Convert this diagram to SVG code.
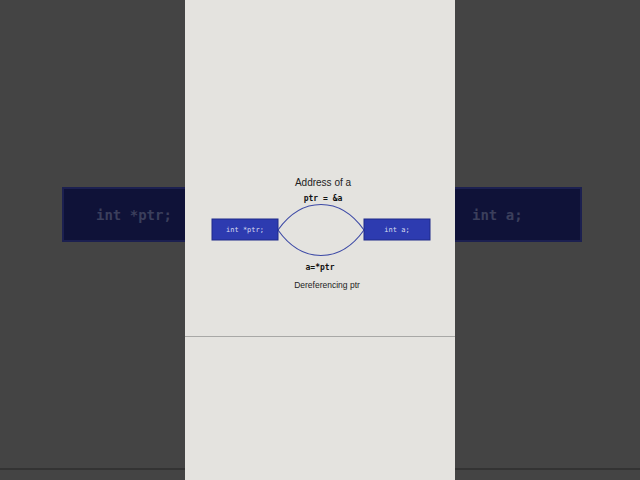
<svg xmlns="http://www.w3.org/2000/svg" width="640" height="480" viewBox="0 0 640 480">
<defs>
<style>
.bgbox{fill:#0f1238;stroke:#1c2050;stroke-width:2}
.bgtxt{font-family:"DejaVu Sans Mono","Liberation Mono",monospace;font-size:14px;font-weight:bold;fill:#3b3f5c}
.node rect{fill:#2d3bb0;stroke:#1f2a8a;stroke-width:1}
.node text{font-family:"DejaVu Sans Mono","Liberation Mono",monospace;font-size:7px;fill:#d8dbf0;text-anchor:middle}
.edge{fill:none;stroke:#3d4aa6;stroke-width:1.1}
.lbl{font-family:"DejaVu Sans Mono","Liberation Mono",monospace;font-size:8px;font-weight:bold;fill:#111;text-anchor:middle}
.cap{font-family:"Liberation Sans","DejaVu Sans",sans-serif;fill:#222;text-anchor:middle}
</style>
</defs>
<rect x="0" y="0" width="640" height="480" fill="#444444"/>
<line x1="0" y1="469" x2="640" y2="469" stroke="#333333" stroke-width="2"/>
<rect class="bgbox" x="63" y="188" width="140" height="53"/>
<rect class="bgbox" x="437" y="188" width="144" height="53"/>
<text class="bgtxt" x="96" y="220">int *ptr;</text>
<text class="bgtxt" x="472" y="220">int a;</text>
<rect x="185" y="0" width="270" height="480" fill="#e4e3df"/>
<line x1="185" y1="336.5" x2="455" y2="336.5" stroke="#a8a8a6" stroke-width="1"/>
<g id="connectors">
<path class="edge" d="M278,230 C302,196 340,196 364,230"/>
<path class="edge" d="M278,230 C302,264 340,264 364,230"/>
</g>
<g id="node-ptr" class="node">
<rect x="212" y="219" width="66" height="21"/>
<text x="245" y="232">int *ptr;</text>
</g>
<g id="node-a" class="node">
<rect x="364" y="219" width="66" height="21"/>
<text x="397" y="232">int a;</text>
</g>
<g id="labels">
<text class="cap" x="323" y="186" font-size="10">Address of a</text>
<text class="lbl" x="323" y="201">ptr = &amp;a</text>
<text class="lbl" x="320" y="270">a=*ptr</text>
<text class="cap" x="327" y="288" font-size="8.5">Dereferencing ptr</text>
</g>
</svg>
